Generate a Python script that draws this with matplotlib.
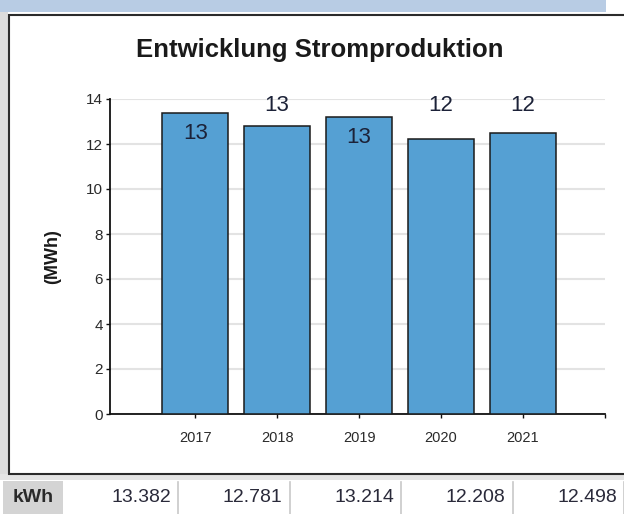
import matplotlib
matplotlib.use("Agg")
import matplotlib.pyplot as plt
from matplotlib.patches import Rectangle

plt.rcParams['font.family'] = ['Liberation Sans', 'DejaVu Sans']

# Daten
jahre = ["2017", "2018", "2019", "2020", "2021"]
kwh = [13382, 12781, 13214, 12208, 12498]
titel = "Entwicklung Stromproduktion"
einheit = "(MWh)"
y_ticks = [0, 2, 4, 6, 8, 10, 12, 14]

mwh = [v / 1000 for v in kwh]

W, H = 624, 514
fig = plt.figure(figsize=(W / 100, H / 100), dpi=100)

# Hintergrund / Rahmen in Pixelkoordinaten
bg = fig.add_axes([0, 0, 1, 1], zorder=0)
bg.set_xlim(0, W)
bg.set_ylim(H, 0)
bg.axis("off")
bg.add_patch(Rectangle((0, 0), 606, 12, color="#b8cce4", lw=0))
bg.add_patch(Rectangle((0, 12), 8, 468, color="#dcdcdc", lw=0))
bg.add_patch(Rectangle((0, 474), W, 6, color="#e4e4e4", lw=0))
bg.add_patch(Rectangle((9, 14.5), W, 459, facecolor="white",
                       edgecolor="#2b2b2b", lw=1.5))
# Tabelle unten
bg.add_patch(Rectangle((3, 481), 60, 40, color="#d4d4d4", lw=0))
bg.text(33, 498, "kWh", ha="center", va="center", fontsize=14,
        fontweight="bold", color="#2a2a2a")
for i, v in enumerate(kwh):
    x_rechts = 171 + i * 111.5
    bg.text(x_rechts, 498, f"{v:,}".replace(",", "."), ha="right",
            va="center", fontsize=14, color="#2a2a3a")
    bg.plot([x_rechts + 7, x_rechts + 7], [482, H], color="#c8c8c8", lw=1.2)

# Diagramm
ax = fig.add_axes([110 / W, 1 - 414 / H, (605 - 110) / W, (414 - 99) / H],
                  zorder=2)
x = list(range(len(jahre)))
ax.bar(x, mwh, width=0.8, color="#55a0d3", edgecolor="#1a1a1a",
       linewidth=1.1, zorder=3)

for xi, v in zip(x, mwh):
    if v > 13:
        ax.text(xi, v - 0.92, f"{v:.0f}", ha="center", va="center",
                fontsize=16, color="#1c2238", zorder=4)
    else:
        ax.text(xi, 13.7, f"{v:.0f}", ha="center", va="center",
                fontsize=16, color="#1c2238", zorder=4)

ax.set_xlim(-1.04, 5.0)
ax.set_ylim(0, 14)
ax.set_xticks(x + [5])
ax.set_xticklabels(jahre + [""])
ax.set_yticks(y_ticks)
ax.yaxis.grid(True, color="#e3e3e3", lw=1.5, zorder=0)
ax.set_axisbelow(True)
for s in ["top", "right"]:
    ax.spines[s].set_visible(False)
for s in ["left", "bottom"]:
    ax.spines[s].set_color("#111111")
    ax.spines[s].set_linewidth(1.3)
ax.tick_params(axis="y", length=3, width=1, pad=2, labelsize=11,
               colors="#111111", labelcolor="#2a2a2a")
ax.tick_params(axis="x", length=3, width=1, pad=9, labelsize=10.5,
               colors="#111111", labelcolor="#2a2a2a")

fig.text(320 / W, 1 - 50 / H, titel, ha="center", va="center",
         fontsize=18.5, fontweight="bold", color="#1a1a1a")
fig.text(53 / W, 1 - 257 / H, einheit, ha="center", va="center",
         rotation=90, fontsize=13, fontweight="bold", color="#1a1a1a")

fig.savefig("out.png", dpi=100)
